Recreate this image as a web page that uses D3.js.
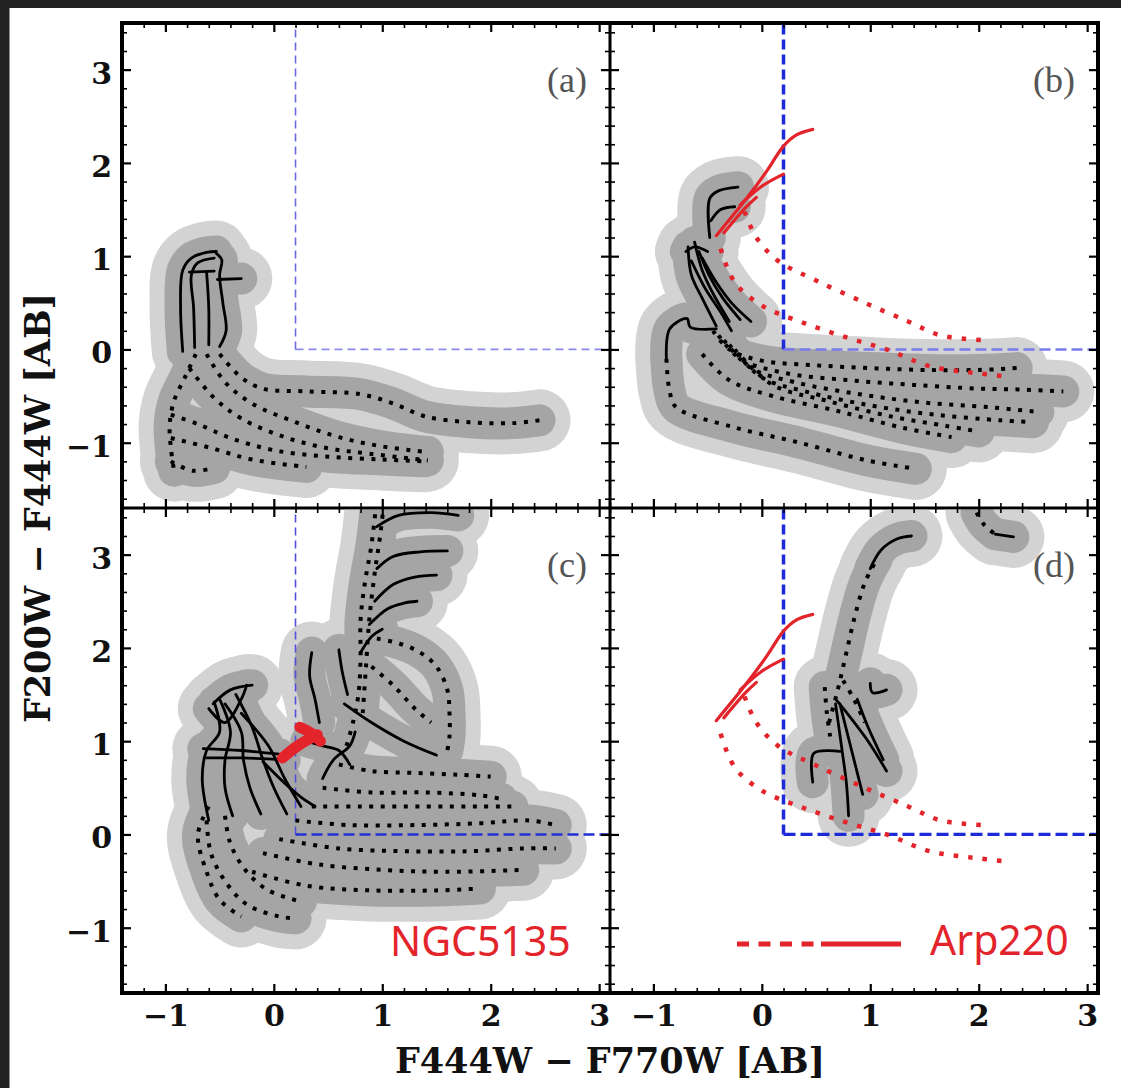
<!DOCTYPE html>
<html><head><meta charset="utf-8">
<script src="https://cdn.jsdelivr.net/npm/d3@7"></script>
<style>
html,body{margin:0;padding:0;background:#fff;}
svg{display:block;}
</style></head><body>
<svg id="chart" width="1121" height="1088"></svg>
<script>
// ---- axis ranges and tick labels (colour F444W-F770W vs F200W-F444W, AB mag) ----
const xDomain = [-1.4, 3.1];
const yDomain = [-1.7, 3.5];
const tickValues = [-1, 0, 1, 2, 3];
const tickLabels = ["\u22121", "0", "1", "2", "3"];
const panelLetters = ["(a)", "(b)", "(c)", "(d)"];
const cutX = 0.2, cutY = 0;   // selection-box corner

// ---- panel (a): model tracks ----
const aSolid = [
  [[-0.84,-0.02],[-0.86,0.45],[-0.84,0.85],[-0.76,0.98],[-0.62,1.04],[-0.53,1.05]],
  [[-0.73,0.02],[-0.74,0.45],[-0.76,0.8],[-0.7,0.93],[-0.55,0.98]],
  [[-0.6,0.05],[-0.6,0.45],[-0.62,0.83]],
  [[-0.78,0.83],[-0.55,0.84]],
  [[-0.5,0.03],[-0.44,0.2],[-0.47,0.5],[-0.5,0.8],[-0.48,0.96],[-0.53,1.03]],
  [[-0.52,0.75],[-0.3,0.76]]
];
const aDotted = [
  [[-0.5,-0.05],[-0.3,-0.3],[-0.1,-0.42],[0.3,-0.45],[0.8,-0.48],[1.1,-0.58],[1.4,-0.72],[1.8,-0.78],[2.2,-0.79],[2.45,-0.76]],
  [[-0.62,-0.05],[-0.45,-0.35],[-0.2,-0.58],[0.2,-0.78],[0.6,-0.94],[1.0,-1.04],[1.42,-1.1]],
  [[-0.78,-0.2],[-0.55,-0.52],[-0.3,-0.74],[0.1,-0.94],[0.5,-1.06],[0.9,-1.12],[1.42,-1.19]],
  [[-0.95,-0.7],[-0.7,-0.8],[-0.4,-0.95],[0.0,-1.08],[0.5,-1.15],[1.0,-1.18],[1.38,-1.2]],
  [[-0.95,-0.95],[-0.6,-1.05],[-0.2,-1.18],[0.3,-1.26]],
  [[-0.95,-1.2],[-0.75,-1.3],[-0.55,-1.27]],
  [[-0.72,-0.05],[-0.82,-0.3],[-0.92,-0.55],[-0.96,-0.8],[-0.95,-1.05],[-0.92,-1.3]]
];

// ---- panel (b): model tracks ----
const bSolid = [
  [[-0.48,1.2],[-0.48,1.62],[-0.4,1.7],[-0.22,1.74]],
  [[-0.47,1.38],[-0.38,1.5],[-0.25,1.53]],
  [[-0.68,1.1],[-0.65,0.8],[-0.55,0.55],[-0.42,0.25]],
  [[-0.62,1.15],[-0.55,0.85],[-0.45,0.6],[-0.3,0.3]],
  [[-0.58,1.05],[-0.48,0.78],[-0.36,0.55],[-0.2,0.32]],
  [[-0.55,0.98],[-0.42,0.72],[-0.28,0.5],[-0.1,0.3]],
  [[-0.65,0.95],[-0.52,0.65],[-0.38,0.4],[-0.28,0.2]],
  [[-0.7,1.05],[-0.62,1.1],[-0.5,1.05]],
  [[-0.42,0.22],[-0.66,0.24],[-0.69,0.33],[-0.85,0.22],[-0.88,-0.1]]
];
const bDotted = [
  [[-0.88,-0.1],[-0.85,-0.45],[-0.79,-0.62],[-0.27,-0.83],[0.35,-1.0],[0.97,-1.19],[1.42,-1.28]],
  [[-0.45,0.2],[-0.3,0.0],[0.0,-0.12],[0.5,-0.17],[1.0,-0.2],[1.5,-0.22],[2.0,-0.22],[2.35,-0.2]],
  [[-0.4,0.15],[-0.2,-0.1],[0.2,-0.25],[0.8,-0.33],[1.4,-0.38],[2.0,-0.42],[2.4,-0.43],[2.78,-0.45]],
  [[-0.35,0.1],[-0.1,-0.2],[0.3,-0.35],[0.9,-0.48],[1.5,-0.57],[2.1,-0.62],[2.55,-0.67]],
  [[-0.3,0.05],[0.0,-0.3],[0.4,-0.45],[1.0,-0.6],[1.6,-0.7],[2.2,-0.76],[2.5,-0.78]],
  [[-0.25,0.0],[0.1,-0.38],[0.6,-0.55],[1.2,-0.72],[1.7,-0.82],[2.0,-0.88]],
  [[-0.55,-0.05],[-0.3,-0.33],[0.1,-0.5],[0.7,-0.66],[1.3,-0.84],[1.75,-0.94]]
];

// ---- panel (c): model tracks ----
const cSolid = [
  [[0.95,3.3],[1.15,3.42],[1.45,3.45],[1.7,3.42]],
  [[0.95,2.85],[1.1,2.98],[1.35,3.03],[1.6,3.04]],
  [[0.93,2.5],[1.1,2.68],[1.3,2.76],[1.5,2.78]],
  [[0.88,2.25],[1.05,2.42],[1.2,2.48],[1.32,2.5]],
  [[0.8,1.95],[0.9,2.12],[1.0,2.2]],
  [[0.65,1.4],[0.9,1.2],[1.2,1.0],[1.5,0.85]],
  [[0.35,1.95],[0.33,1.7],[0.38,1.45],[0.42,1.2]],
  [[0.6,1.98],[0.63,1.75],[0.68,1.5]],
  [[-0.56,1.4],[-0.4,1.55],[-0.2,1.6]],
  [[-0.6,1.35],[-0.45,1.2],[-0.3,1.45],[-0.25,1.6]],
  [[-0.55,1.42],[-0.5,1.1],[-0.62,0.9],[-0.66,0.6],[-0.6,0.15]],
  [[-0.5,1.45],[-0.4,1.1],[-0.45,0.8],[-0.45,0.5],[-0.38,0.2]],
  [[-0.45,1.4],[-0.3,1.1],[-0.28,0.8],[-0.22,0.5],[-0.12,0.22]],
  [[-0.35,1.5],[-0.2,1.15],[-0.1,0.8],[0.0,0.5],[0.12,0.22]],
  [[-0.3,1.3],[-0.05,0.95],[0.1,0.6],[0.25,0.3]],
  [[-0.65,0.92],[-0.3,0.9],[0.05,0.86]],
  [[-0.62,0.82],[-0.3,0.82],[0.1,0.8]],
  [[-0.1,0.78],[0.1,0.55],[0.25,0.4],[0.38,0.3]],
  [[0.3,1.0],[0.45,0.95],[0.6,0.9],[0.7,0.75]],
  [[0.45,0.6],[0.55,0.8],[0.7,0.95],[0.75,1.1]]
];
const cDotted = [
  [[0.67,0.95],[0.73,1.2],[0.78,1.5],[0.8,1.9],[0.8,2.3],[0.84,2.7],[0.9,3.1],[0.95,3.6]],
  [[0.82,1.3],[0.85,1.8],[0.88,2.3],[0.93,2.8],[0.98,3.2],[1.02,3.6]],
  [[0.95,2.1],[1.15,2.05],[1.35,1.95],[1.5,1.8],[1.6,1.55],[1.62,1.3],[1.62,1.05],[1.6,0.9]],
  [[0.9,1.8],[1.1,1.6],[1.3,1.35],[1.45,1.2]],
  [[0.6,0.75],[0.9,0.68],[1.3,0.66],[1.7,0.64],[2.0,0.62]],
  [[0.45,0.5],[0.9,0.45],[1.4,0.45],[1.9,0.42],[2.1,0.38]],
  [[0.35,0.3],[0.8,0.3],[1.4,0.3],[1.9,0.3],[2.2,0.3]],
  [[0.2,0.15],[0.7,0.1],[1.3,0.1],[1.9,0.12],[2.35,0.15],[2.6,0.1]],
  [[0.05,-0.05],[0.6,-0.15],[1.2,-0.18],[1.8,-0.18],[2.3,-0.15],[2.6,-0.15]],
  [[-0.1,-0.2],[0.4,-0.32],[1.0,-0.38],[1.6,-0.4],[2.3,-0.38]],
  [[-0.2,-0.4],[0.3,-0.55],[0.9,-0.6],[1.5,-0.6],[1.9,-0.58]],
  [[-0.62,0.15],[-0.58,-0.2],[-0.45,-0.5],[-0.25,-0.75],[0.05,-0.88],[0.2,-0.9]],
  [[-0.45,0.2],[-0.4,-0.1],[-0.25,-0.4],[-0.05,-0.6],[0.25,-0.72]],
  [[-0.6,0.3],[-0.7,0.0],[-0.62,-0.4],[-0.5,-0.7],[-0.3,-0.88]]
];

// ---- panel (d): model tracks ----
const dSolid = [
  [[1.0,2.85],[1.1,3.05],[1.25,3.17],[1.38,3.2]],
  [[2.15,3.22],[2.32,3.19]],
  [[0.47,0.56],[0.48,0.87],[0.72,0.89]],
  [[0.8,0.2],[0.78,0.55],[0.74,0.9],[0.68,1.4]],
  [[0.93,0.43],[0.85,0.8],[0.72,1.4]],
  [[1.15,0.68],[0.98,1.0],[0.8,1.28],[0.68,1.45]],
  [[1.12,0.8],[0.98,1.15],[0.88,1.45]],
  [[1.0,1.62],[1.02,1.52],[1.15,1.55]]
];
const dDotted = [
  [[0.62,1.2],[0.7,1.55],[0.78,1.95],[0.86,2.35],[0.95,2.7],[1.06,2.95]],
  [[1.98,3.45],[2.05,3.32],[2.15,3.22]],
  [[0.58,1.58],[0.6,1.3],[0.63,1.05]],
  [[0.75,1.65],[0.85,1.45],[0.95,1.2]]
];

// ---- observed galaxy templates ----
const arpSolid = [
  [[-0.42,1.22],[-0.14,1.62],[0.05,1.92],[0.2,2.18],[0.32,2.3],[0.47,2.36]],
  [[-0.2,1.55],[0.0,1.75],[0.2,1.88]],
  [[-0.35,1.25],[-0.15,1.52],[-0.05,1.63]]
];
const arpDotted = [
  [[-0.16,1.48],[-0.05,1.2],[0.15,0.95],[0.5,0.74],[0.95,0.5],[1.35,0.3],[1.65,0.15],[2.04,0.1]],
  [[-0.38,1.08],[-0.25,0.72],[0.0,0.47],[0.35,0.3],[0.75,0.14],[1.15,0.0],[1.55,-0.18],[1.95,-0.25],[2.26,-0.29]]
];
const ngcSolid = [
  [[0.08,0.82],[0.22,0.95],[0.4,1.07]],
  [[0.24,1.15],[0.34,1.09],[0.43,1.0]]
];

// ---------------- drawing ----------------
const RED = "#e3242b";
const svg = d3.select("#chart");
svg.append("rect").attr("width",1121).attr("height",1088).attr("fill","#fff");
svg.append("rect").attr("x",0).attr("y",0).attr("width",1121).attr("height",8).attr("fill","#222");
svg.append("rect").attr("x",0).attr("y",0).attr("width",9.5).attr("height",1088).attr("fill","#222");

const W = 488, H = 485;
const thinCut  = {v:{c:"#6a6ae0",w:1.6,dash:"8 5"}, h:{c:"#8a8aee",w:1.8,dash:"8 5"}};
const boldCut  = {v:{c:"#1c2ad8",w:3.5,dash:"10 5"}, h:{c:"#7a7aee",w:2.6,dash:"11 5"}};
const mixedCut = {v:{c:"#5050d8",w:1.6,dash:"8 5"}, h:{c:"#2232d2",w:2.6,dash:"11 5"}};
const heavyCut = {v:{c:"#1c2ad8",w:3.5,dash:"10 5"}, h:{c:"#1c2ad8",w:3.2,dash:"12 5"}};

const panels = [
  {id:"a", x0:122, y0:23,  solid:aSolid, dotted:aDotted, redSolid:[], redDotted:[], redThick:[], cut:thinCut,  left:true,  bottom:false},
  {id:"b", x0:610, y0:23,  solid:bSolid, dotted:bDotted, redSolid:arpSolid, redDotted:arpDotted, redThick:[], cut:boldCut, left:false, bottom:false},
  {id:"c", x0:122, y0:508, solid:cSolid, dotted:cDotted, redSolid:[], redDotted:[], redThick:ngcSolid, cut:mixedCut, left:true, bottom:true},
  {id:"d", x0:610, y0:508, solid:dSolid, dotted:dDotted, redSolid:arpSolid, redDotted:arpDotted, redThick:[], cut:heavyCut, left:false, bottom:true}
];

const defs = svg.append("defs");
const tickFont = "'DejaVu Serif', serif";

panels.forEach((p, pi) => {
  const x = d3.scaleLinear().domain(xDomain).range([p.x0, p.x0 + W]);
  const y = d3.scaleLinear().domain(yDomain).range([p.y0 + H, p.y0]);
  defs.append("clipPath").attr("id", "clip-" + p.id)
    .append("rect").attr("x", p.x0).attr("y", p.y0).attr("width", W).attr("height", H);

  const g = svg.append("g");
  const plot = g.append("g").attr("clip-path", `url(#clip-${p.id})`);
  const line = d3.line().x(d => x(d[0])).y(d => y(d[1])).curve(d3.curveCatmullRom.alpha(0.5));
  const tracks = p.solid.concat(p.dotted);

  // grey envelopes around the model tracks
  [["#d3d3d3", 62], ["#a5a5a5", 32]].forEach(([col, w]) => {
    plot.append("g").selectAll("path").data(tracks).join("path")
      .attr("d", line).attr("fill", "none").attr("stroke", col).attr("stroke-width", w)
      .attr("stroke-linecap", "round").attr("stroke-linejoin", "round");
  });

  // selection box edges
  plot.append("line")
    .attr("x1", x(cutX)).attr("x2", x(cutX)).attr("y1", y(cutY)).attr("y2", y(yDomain[1]))
    .attr("stroke", p.cut.v.c).attr("stroke-width", p.cut.v.w).attr("stroke-dasharray", p.cut.v.dash);
  plot.append("line")
    .attr("x1", x(cutX)).attr("x2", x(xDomain[1])).attr("y1", y(cutY)).attr("y2", y(cutY))
    .attr("stroke", p.cut.h.c).attr("stroke-width", p.cut.h.w).attr("stroke-dasharray", p.cut.h.dash);

  // model tracks
  plot.append("g").selectAll("path").data(p.dotted).join("path")
    .attr("d", line).attr("fill", "none").attr("stroke", "#000")
    .attr("stroke-width", 4).attr("stroke-dasharray", "4 7.5");
  plot.append("g").selectAll("path").data(p.solid).join("path")
    .attr("d", line).attr("fill", "none").attr("stroke", "#000")
    .attr("stroke-width", 2.8).attr("stroke-linecap", "round").attr("stroke-linejoin", "round");

  // observed templates
  plot.append("g").selectAll("path").data(p.redDotted).join("path")
    .attr("d", line).attr("fill", "none").attr("stroke", RED)
    .attr("stroke-width", 4.5).attr("stroke-dasharray", "4.5 10");
  plot.append("g").selectAll("path").data(p.redSolid).join("path")
    .attr("d", line).attr("fill", "none").attr("stroke", RED)
    .attr("stroke-width", 3.2).attr("stroke-linecap", "round");
  plot.append("g").selectAll("path").data(p.redThick).join("path")
    .attr("d", line).attr("fill", "none").attr("stroke", RED)
    .attr("stroke-width", 11).attr("stroke-linecap", "round").attr("stroke-linejoin", "round");

  // ticks: major on all sides, minor every 0.2
  const xMinor = d3.range(-1.4, 3.1001, 0.2).filter(v => Math.abs(v - Math.round(v)) > 1e-6);
  const yMinor = d3.range(-1.6, 3.5001, 0.2).filter(v => Math.abs(v - Math.round(v)) > 1e-6);
  const fmtX = (d, i) => p.bottom ? tickLabels[i] : "";
  const fmtY = (d, i) => p.left ? tickLabels[i] : "";
  const axes = [
    [d3.axisBottom(x).tickValues(tickValues).tickFormat(fmtX).tickPadding(12), `translate(0,${p.y0 + H})`, 9, false],
    [d3.axisTop(x).tickValues(tickValues).tickFormat(""), `translate(0,${p.y0})`, 9, false],
    [d3.axisLeft(y).tickValues(tickValues).tickFormat(fmtY).tickPadding(10), `translate(${p.x0},0)`, 9, true],
    [d3.axisRight(y).tickValues(tickValues).tickFormat(""), `translate(${p.x0 + W},0)`, 9, false],
    [d3.axisBottom(x).tickValues(xMinor).tickFormat(""), `translate(0,${p.y0 + H})`, 5, false],
    [d3.axisTop(x).tickValues(xMinor).tickFormat(""), `translate(0,${p.y0})`, 5, false],
    [d3.axisLeft(y).tickValues(yMinor).tickFormat(""), `translate(${p.x0},0)`, 5, false],
    [d3.axisRight(y).tickValues(yMinor).tickFormat(""), `translate(${p.x0 + W},0)`, 5, false]
  ];
  axes.forEach(([ax, tr, len, isLeft]) => {
    const a = g.append("g").attr("transform", tr)
      .call(ax.tickSizeInner(-len).tickSizeOuter(0));
    a.select(".domain").remove();
    a.selectAll(".tick line").attr("stroke", "#000").attr("stroke-width", len > 6 ? 2.2 : 1.6);
    a.selectAll("text").attr("font-family", tickFont).attr("font-weight", "bold")
      .attr("font-size", 30).attr("fill", "#111");
    if (isLeft) a.selectAll("text").attr("dy", "0.45em");
  });

  // panel frame
  g.append("rect").attr("x", p.x0).attr("y", p.y0).attr("width", W).attr("height", H)
    .attr("fill", "none").attr("stroke", "#000").attr("stroke-width", 2.6);

  // panel letter
  g.append("text").attr("x", p.x0 + W - 23).attr("y", p.y0 + 69)
    .attr("text-anchor", "end").attr("font-family", "'Liberation Serif', serif")
    .attr("font-size", 36).attr("fill", "#555").text(panelLetters[pi]);
});

// outer frame
svg.append("rect").attr("x", 122).attr("y", 23).attr("width", 2 * W).attr("height", 2 * H)
  .attr("fill", "none").attr("stroke", "#000").attr("stroke-width", 4);

// axis titles
svg.append("text").attr("x", 610).attr("y", 1073).attr("text-anchor", "middle")
  .attr("font-family", tickFont).attr("font-weight", "bold").attr("font-size", 35).attr("fill", "#111")
  .text("F444W \u2212 F770W [AB]");
svg.append("text").attr("transform", "translate(50,508) rotate(-90)").attr("text-anchor", "middle")
  .attr("font-family", tickFont).attr("font-weight", "bold").attr("font-size", 35).attr("fill", "#111")
  .text("F200W \u2212 F444W [AB]");

// galaxy labels and legend key
svg.append("text").attr("x", 390).attr("y", 956).attr("font-family", "'Noto Sans', sans-serif")
  .attr("font-size", 41).attr("fill", RED).text("NGC5135");
svg.append("line").attr("x1", 737).attr("x2", 816).attr("y1", 944).attr("y2", 944)
  .attr("stroke", RED).attr("stroke-width", 5).attr("stroke-dasharray", "12 9.5");
svg.append("line").attr("x1", 821).attr("x2", 901).attr("y1", 944).attr("y2", 944)
  .attr("stroke", RED).attr("stroke-width", 5);
svg.append("text").attr("x", 930).attr("y", 955).attr("font-family", "'Noto Sans', sans-serif")
  .attr("font-size", 41).attr("fill", RED).text("Arp220");
</script>
</body></html>
